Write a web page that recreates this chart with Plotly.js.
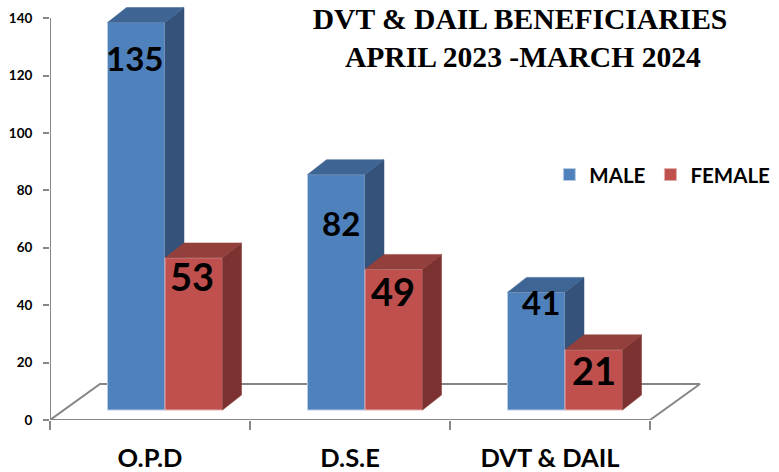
<!DOCTYPE html>
<html><head><meta charset="utf-8">
<script src="https://cdn.plot.ly/plotly-3.0.1.min.js"></script>
<style>html,body{margin:0;padding:0;background:#fff}#c{width:779px;height:472px}</style>
</head><body><div id="c"></div>
<script>
const categories = ['O.P.D', 'D.S.E', 'DVT &amp; DAIL'];
const male = [135, 82, 41];
const female = [53, 49, 21];
const maleLabelY = [126, 68.6, 41];
const femaleLabelY = [50.3, 45, 17.4];
const maleLabelX = [-0.08, 0.955, 1.955];
const femaleLabelX = [0.21, 1.215, 2.22];
const yTicks = [0, 20, 40, 60, 80, 100, 120, 140];

const FONT = 'Lato, "Open Sans", sans-serif';
const AXIS = '#868686';
const base = 3.48, barW = 0.2875, dx = 0.095, dy = 5.2;
const idx = categories.map((_, i) => i);

function faces(vals, off, kind) {
  const xs = [], ys = [];
  vals.forEach((v, i) => {
    const x0 = i + off, x1 = x0 + barW, t = base + v;
    if (kind === 'side') {
      xs.push(x1, x1, x1 + dx, x1 + dx, x1, null);
      ys.push(base, t, t + dy, base + dy, base, null);
    } else {
      xs.push(x0, x1, x1 + dx, x0 + dx, x0, null);
      ys.push(t, t, t + dy, t + dy, t, null);
    }
  });
  return {x: xs, y: ys};
}
function poly(p, color, xa, ya) {
  return {type: 'scatter', mode: 'lines', x: p.x, y: p.y, fill: 'toself', fillcolor: color,
    line: {width: 0.5, color: color}, hoverinfo: 'skip', showlegend: false, cliponaxis: false, xaxis: xa, yaxis: ya};
}
const mOff = -0.2125, fOff = 0.075;
const data = [
  {type: 'scatter', mode: 'lines', x: [-0.5, -0.25, 2.75, 2.5], y: [0, 12.54, 12.54, 0],
    line: {color: AXIS, width: 2}, hoverinfo: 'skip', showlegend: false, cliponaxis: false},
  {type: 'scatter', mode: 'lines', x: [-0.5, -0.5], y: [0, 140],
    line: {color: AXIS, width: 2}, hoverinfo: 'skip', showlegend: false, cliponaxis: false},
  {type: 'scatter', mode: 'lines', x: [-0.5, 2.5], y: [0, 0],
    line: {color: AXIS, width: 2}, hoverinfo: 'skip', showlegend: false, cliponaxis: false},
  {type: 'bar', name: 'MALE', x: idx, y: male, base: base, width: barW, offset: mOff, xaxis: 'x2', yaxis: 'y2',
    marker: {color: '#4f81bd', line: {color: '#b9cde5', width: 1}}},
  poly(faces(male, mOff, 'side'), '#34527a', 'x2', 'y2'),
  poly(faces(male, mOff, 'top'), '#3e6594', 'x2', 'y2'),
  {type: 'bar', name: 'FEMALE', x: idx, y: female, base: base, width: barW, offset: fOff, xaxis: 'x3', yaxis: 'y3',
    marker: {color: '#c0504d', line: {color: '#e0b0ae', width: 1}}},
  poly(faces(female, fOff, 'side'), '#7c3230', 'x3', 'y3'),
  poly(faces(female, fOff, 'top'), '#93403d', 'x3', 'y3')
];
const xr = [-0.5, 3.145], yr = [0, 146.3];
const annotations = [];
male.forEach((v, i) => annotations.push({x: maleLabelX[i], y: maleLabelY[i], xref: 'x', yref: 'y', text: String(v), showarrow: false,
  font: {family: FONT, size: 33, color: '#000', weight: 700}}));
female.forEach((v, i) => annotations.push({x: femaleLabelX[i], y: femaleLabelY[i], xref: 'x', yref: 'y', text: String(v), showarrow: false,
  font: {family: FONT, size: 38, color: '#000', weight: 700}}));

const layout = {
  width: 779, height: 472, paper_bgcolor: '#fff', plot_bgcolor: 'rgba(0,0,0,0)',
  margin: {l: 50, r: 0, t: 0, b: 52},
  barmode: 'overlay', hovermode: false,
  title: {text: 'DVT &amp; DAIL BENEFICIARIES<br> APRIL 2023 -MARCH 2024', x: 520 / 779, xanchor: 'center',
    y: 0.939, yanchor: 'top', font: {family: '"Liberation Serif", serif', size: 29.6, color: '#000', weight: 700}},
  xaxis: {range: xr, showgrid: false, zeroline: false, showline: false, tickmode: 'array', tickvals: idx, ticktext: categories,
    ticks: 'outside', ticklen: 15, tickcolor: 'rgba(0,0,0,0)', tickfont: {family: FONT, size: 25.5, color: '#000', weight: 700},
    minor: {ticks: 'outside', tick0: -0.5, dtick: 1, ticklen: 9, tickwidth: 2, tickcolor: AXIS, showgrid: false}},
  yaxis: {range: yr, showgrid: false, zeroline: false, showline: false, tickmode: 'array', tickvals: yTicks,
    ticks: 'outside', ticklen: 6, tickwidth: 2, tickcolor: AXIS, ticklabelstandoff: 8,
    tickfont: {family: FONT, size: 13.5, color: '#000', weight: 700}},
  xaxis2: {range: xr, overlaying: 'x', visible: false, anchor: 'y2'},
  yaxis2: {range: yr, overlaying: 'y', visible: false, anchor: 'x2'},
  xaxis3: {range: xr, overlaying: 'x', visible: false, anchor: 'y3'},
  yaxis3: {range: yr, overlaying: 'y', visible: false, anchor: 'x3'},
  legend: {orientation: 'h', x: 0.685, xanchor: 'left', y: 0.584, yanchor: 'middle',
    bgcolor: 'rgba(0,0,0,0)', font: {family: FONT, size: 20.5, color: '#000', weight: 700}, itemwidth: 30},
  annotations: annotations
};
Plotly.newPlot('c', data, layout, {displayModeBar: false, staticPlot: true});
</script></body></html>
